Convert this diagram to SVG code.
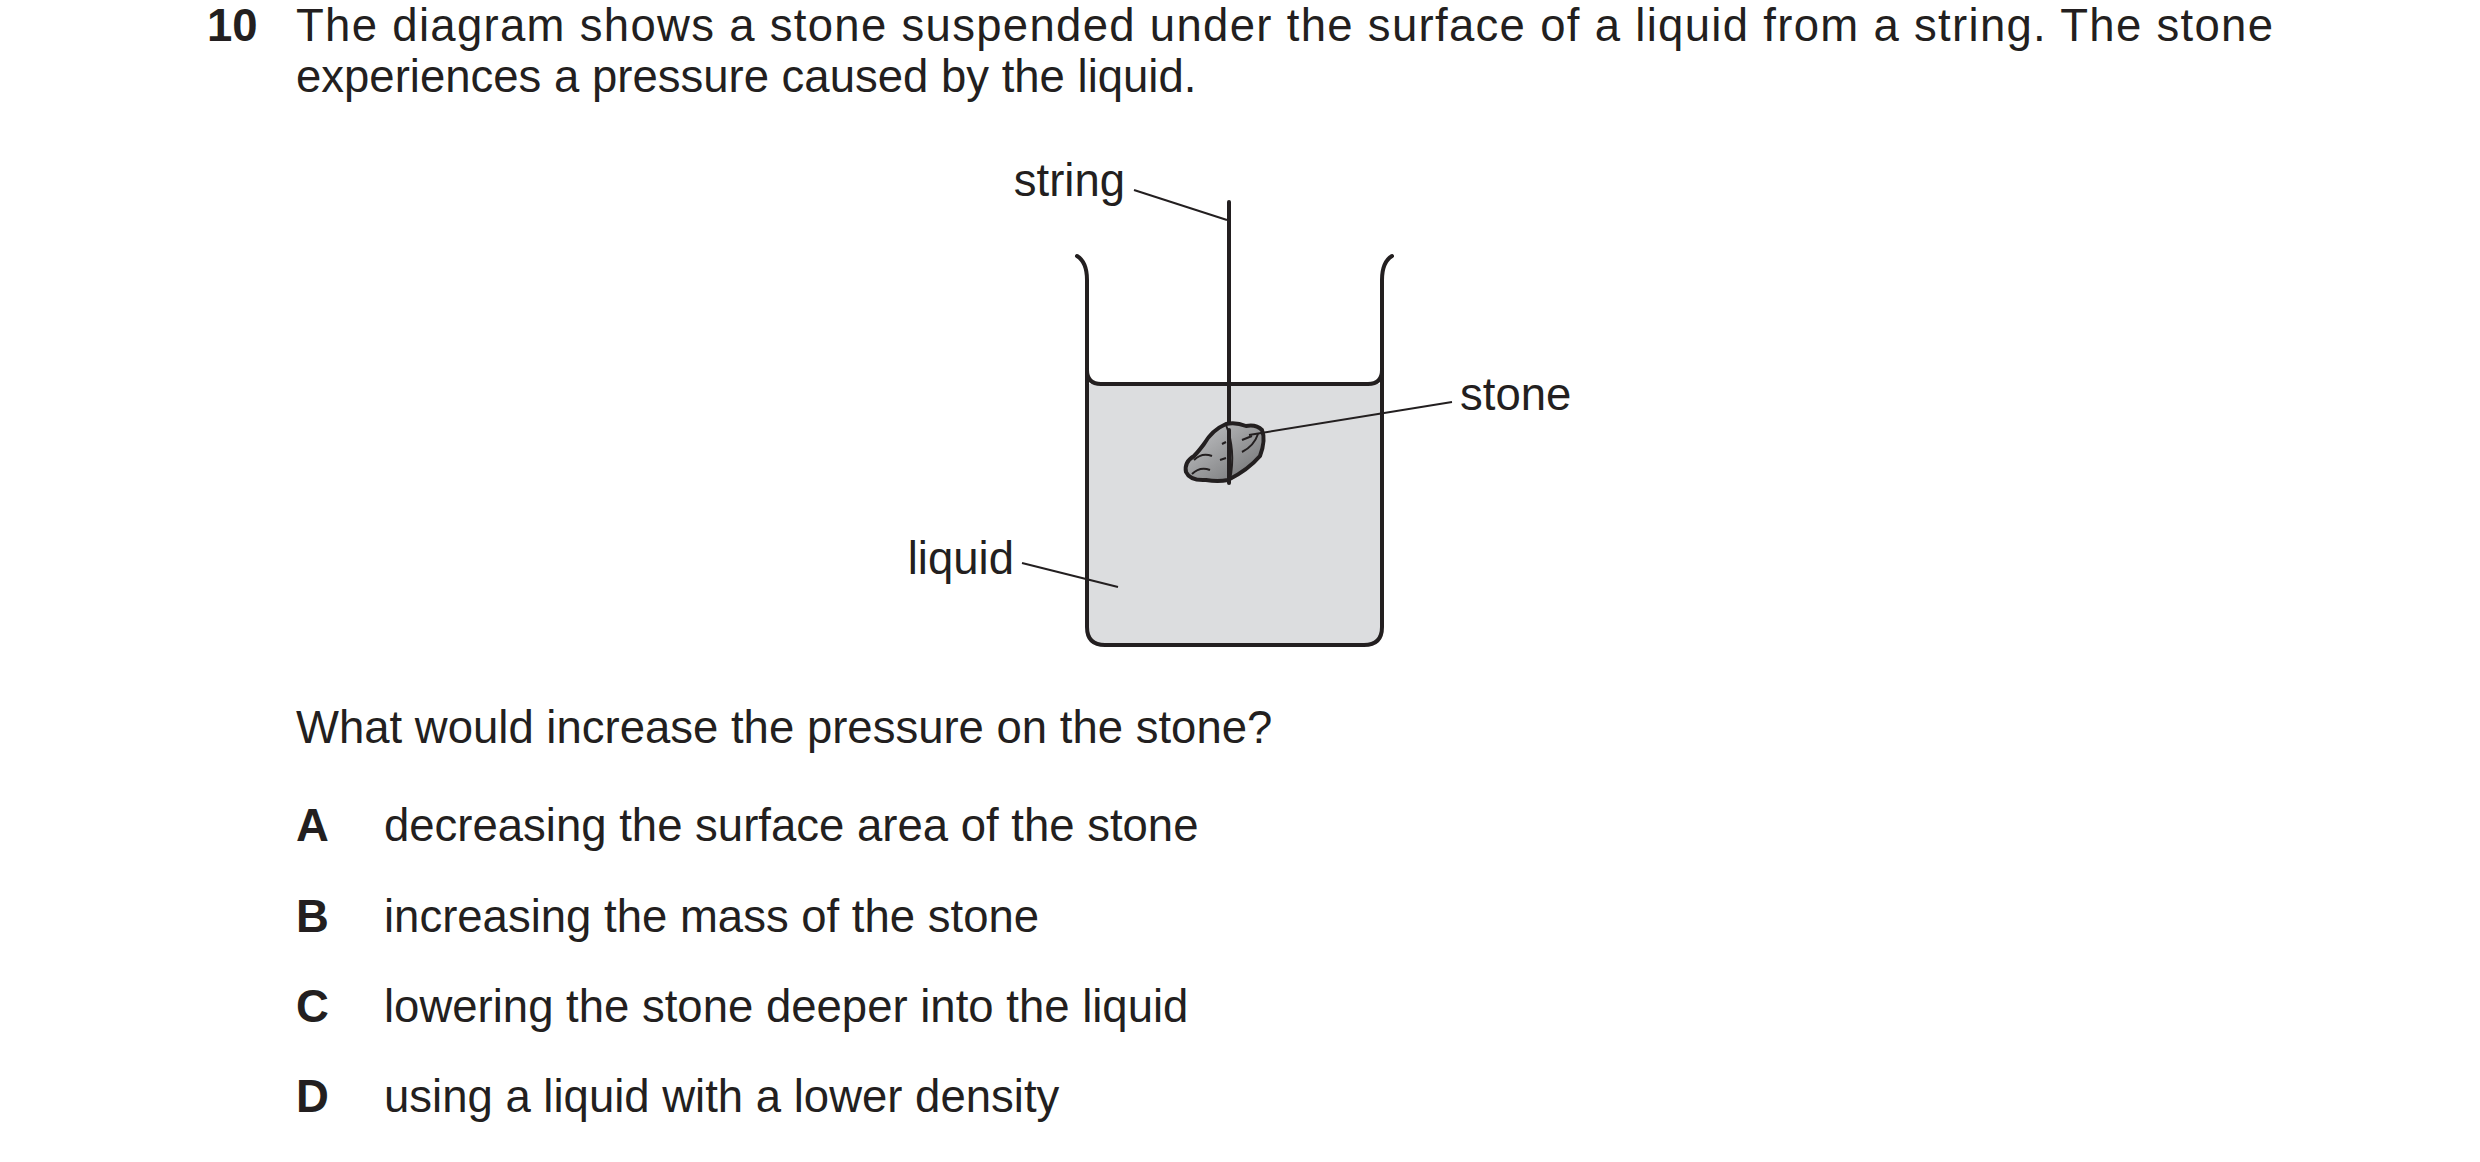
<svg xmlns="http://www.w3.org/2000/svg" width="2480" height="1162" viewBox="0 0 2480 1162">
<style>
text{font-family:"Liberation Sans",Arial,sans-serif;font-size:45.5px;fill:#231f20}
.b{font-weight:bold}
.ln{stroke:#231f20;fill:none;stroke-width:4;stroke-linecap:round;stroke-linejoin:round}
.th{stroke:#231f20;fill:none;stroke-width:2}
</style>
<defs>
<linearGradient id="sg" x1="0" y1="0" x2="1" y2="1">
<stop offset="0" stop-color="#c8c9cb"/><stop offset="1" stop-color="#6d6e70"/>
</linearGradient>
</defs>
<rect width="2480" height="1162" fill="#fff"/>
<g id="question">
<text class="b" x="207" y="41">10</text>
<text x="296" y="41" textLength="1977" lengthAdjust="spacing">The diagram shows a stone suspended under the surface of a liquid from a string. The stone</text>
<text x="296" y="92">experiences a pressure caused by the liquid.</text>
<text x="296" y="743">What would increase the pressure on the stone?</text>
</g>
<g id="beaker">
<path d="M1087 384 L1382 384 L1382 627 Q1382 645 1364 645 L1105 645 Q1087 645 1087 627 Z" fill="#dcdddf"/>
<path class="ln" d="M1077 256 Q1087 262 1087 280 L1087 627 Q1087 645 1105 645 L1364 645 Q1382 645 1382 627 L1382 280 Q1382 262 1392 256"/>
<path class="ln" d="M1087 370 Q1087 384 1101 384 L1368 384 Q1382 384 1382 370"/>
</g>
<g id="string">
<line class="ln" x1="1229" y1="202" x2="1229" y2="426" stroke-width="3"/>
</g>
<g id="stone">
<path d="M1226 424 Q1212 430 1204 444 Q1198 452 1194 456 Q1184 462 1186 472 Q1190 481 1206 480 Q1218 482 1228 480 Q1248 470 1260 456 Q1266 440 1262 430 Q1256 424 1246 426 Q1236 422 1226 424 Z" fill="url(#sg)" stroke="#231f20" stroke-width="4" stroke-linejoin="round"/>
<path class="th" d="M1226 425 Q1236 450 1230 480"/>
<path class="th" d="M1194 460 Q1202 452 1212 456 M1192 474 Q1200 466 1210 470 M1222 444 L1226 442 M1220 460 L1226 458 M1242 452 Q1254 446 1258 434 M1242 440 L1252 436"/>
<line class="ln" x1="1229" y1="430" x2="1229" y2="483" stroke-width="3"/>
</g>
<g id="labels">
<text x="1125" y="196" text-anchor="end">string</text>
<text x="1460" y="410">stone</text>
<text x="1014" y="574" text-anchor="end">liquid</text>
</g>
<g id="connectors">
<line class="th" x1="1134" y1="190" x2="1227" y2="220"/>
<line class="th" x1="1249" y1="435" x2="1452" y2="402"/>
<line class="th" x1="1022" y1="563" x2="1118" y2="587"/>
</g>
<g id="options">
<text class="b" x="296" y="841">A</text><text x="384" y="841">decreasing the surface area of the stone</text>
<text class="b" x="296" y="932">B</text><text x="384" y="932">increasing the mass of the stone</text>
<text class="b" x="296" y="1022">C</text><text x="384" y="1022">lowering the stone deeper into the liquid</text>
<text class="b" x="296" y="1112">D</text><text x="384" y="1112">using a liquid with a lower density</text>
</g>
</svg>
